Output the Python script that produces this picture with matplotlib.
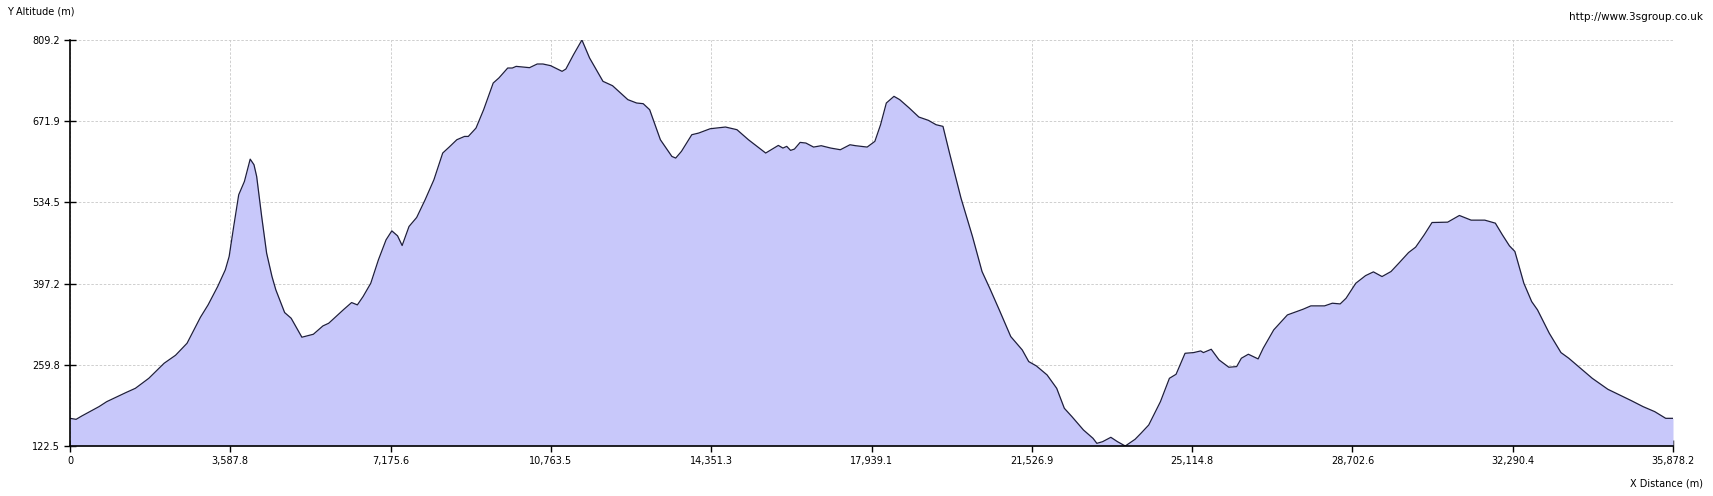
import numpy as np
from matplotlib import pyplot as plt

# elevation profile (distance m, altitude m)
distance = [0, 137, 265, 650, 822, 1250, 1464, 1764, 2106, 2363, 2620, 2920, 3091, 3305,
            3476, 3562, 3664, 3776, 3904, 4033, 4118, 4178, 4290, 4401, 4521, 4607, 4804,
            4950, 5190, 5447, 5661, 5790, 6132, 6303, 6432, 6560, 6732, 6903, 7074, 7203,
            7331, 7434, 7588, 7759, 7948, 8145, 8342, 8487, 8658, 8830, 8915, 9087, 9258,
            9472, 9600, 9797, 9900, 9986, 10285, 10457, 10585, 10757, 11014, 11099, 11270,
            11458, 11629, 11929, 12143, 12486, 12683, 12829, 12974, 13214, 13471, 13557,
            13685, 13917, 14071, 14328, 14671, 14928, 15185, 15571, 15854, 15957, 16042,
            16128, 16214, 16342, 16471, 16643, 16814, 17028, 17242, 17457, 17585, 17842,
            18014, 18142, 18271, 18442, 18571, 18785, 18999, 19213, 19385, 19539, 19685,
            19942, 20199, 20413, 20585, 20799, 21056, 21313, 21458, 21630, 21869, 22084,
            22255, 22426, 22683, 22897, 22983, 23111, 23296, 23445, 23619, 23838, 23969,
            24144, 24406, 24607, 24756, 24957, 25150, 25307, 25368, 25543, 25718, 25937,
            26112, 26217, 26374, 26593, 26706, 26942, 27248, 27598, 27773, 28079, 28254,
            28429, 28561, 28779, 28998, 29173, 29366, 29567, 29742, 29960, 30118, 30310,
            30485, 30835, 31097, 31360, 31666, 31902, 32059, 32217, 32339, 32540, 32715,
            32846, 33109, 33371, 33546, 33765, 34071, 34421, 34946, 35208, 35470, 35715,
            35878.2]
altitude = [169.3, 167.6, 173.3, 189.1, 197.5, 212.8, 220.1, 237.0, 262.4, 276.0, 296.3,
            340.3, 361.2, 392.2, 420.4, 443.0, 493.8, 547.4, 570.0, 607.7, 598.2, 578.4,
            510.7, 448.6, 409.1, 386.6, 348.2, 338.6, 306.5, 311.5, 325.6, 330.1, 353.8,
            365.1, 361.2, 375.3, 397.8, 437.4, 471.2, 486.4, 478.0, 461.6, 493.8, 509.0,
            538.9, 572.8, 618.0, 628.1, 640.5, 646.1, 646.1, 660.2, 691.3, 736.4, 745.0,
            761.8, 761.8, 764.6, 762.4, 768.6, 768.6, 765.8, 756.2, 760.1, 784.4,
            809.2, 778.8, 739.3, 731.9, 708.3, 702.6, 701.5, 691.3, 640.5, 612.3, 609.5,
            620.8, 649.0, 651.8, 659.1, 662.0, 657.5, 640.5, 618.0, 630.9, 626.4, 629.3,
            622.5, 624.7, 636.0, 634.9, 628.1, 630.4, 626.4, 623.6, 632.0, 630.4, 628.1,
            637.7, 665.9, 702.6, 713.9, 708.3, 694.1, 678.9, 673.3, 665.9, 663.1, 618.0,
            541.8, 476.9, 417.6, 389.4, 352.7, 307.6, 285.0, 265.3, 257.9, 242.7, 220.1,
            186.3, 172.1, 149.6, 135.5, 127.0, 129.8, 137.2, 129.8, 122.5, 133.8, 143.9,
            158.0, 197.5, 237.0, 243.8, 279.3, 280.5, 283.3, 280.5, 286.1, 268.1, 255.7,
            256.8, 270.9, 277.7, 269.8, 287.8, 318.9, 344.2, 353.8, 359.5, 359.5, 364.0,
            362.8, 372.4, 397.8, 410.7, 417.0, 409.1, 417.6, 431.7, 449.7, 458.8, 479.7,
            500.5, 501.1, 512.4, 504.5, 504.5, 499.4, 479.7, 461.1, 451.5, 397.8, 366.8,
            352.7, 313.2, 280.5, 270.9, 256.8, 237.0, 218.4, 199.2, 189.1, 180.6, 169.3,
            169.3]

x_ticks = [0, 3587.8, 7175.6, 10763.5, 14351.3, 17939.1, 21526.9, 25114.8, 28702.6,
           32290.4, 35878.2]
x_labels = ["0", "3,587.8", "7,175.6", "10,763.5", "14,351.3", "17,939.1", "21,526.9",
            "25,114.8", "28,702.6", "32,290.4", "35,878.2"]
y_ticks = [122.5, 259.8, 397.2, 534.5, 671.9, 809.2]
y_labels = ["122.5", "259.8", "397.2", "534.5", "671.9", "809.2"]

fig = plt.figure(figsize=(17.13, 4.96), dpi=100)
ax = fig.add_axes([70 / 1713, 50 / 496, 1603 / 1713, 406 / 496])

ax.fill_between(distance, altitude, y_ticks[0], color="#c8c8fa", lw=0, zorder=2)
ax.plot(distance, altitude, color="#1e1e3c", lw=0.9, zorder=3)

ax.set_xlim(x_ticks[0], x_ticks[-1])
ax.set_ylim(y_ticks[0], y_ticks[-1])
ax.set_xticks(x_ticks, x_labels)
ax.set_yticks(y_ticks, y_labels)
ax.tick_params(direction="inout", length=8, width=1, labelsize=7, colors="black", pad=3)
ax.grid(True, color="#c8c8c8", linestyle=(0, (3, 2)), lw=0.6, zorder=1)

for s in ["top", "right"]:
    ax.spines[s].set_visible(False)
for s in ["left", "bottom"]:
    ax.spines[s].set_linewidth(1.2)
    ax.spines[s].set_zorder(4)

fig.text(7 / 1713, 1 - 11 / 496, "Y Altitude (m)", fontsize=7, va="center", ha="left")
fig.text(1703 / 1713, 1 - 17 / 496, "http://www.3sgroup.co.uk", fontsize=7.5, va="center", ha="right")
fig.text(1703 / 1713, 1 - 483 / 496, "X Distance (m)", fontsize=7, va="center", ha="right")

fig.savefig("out.png", dpi=100)
